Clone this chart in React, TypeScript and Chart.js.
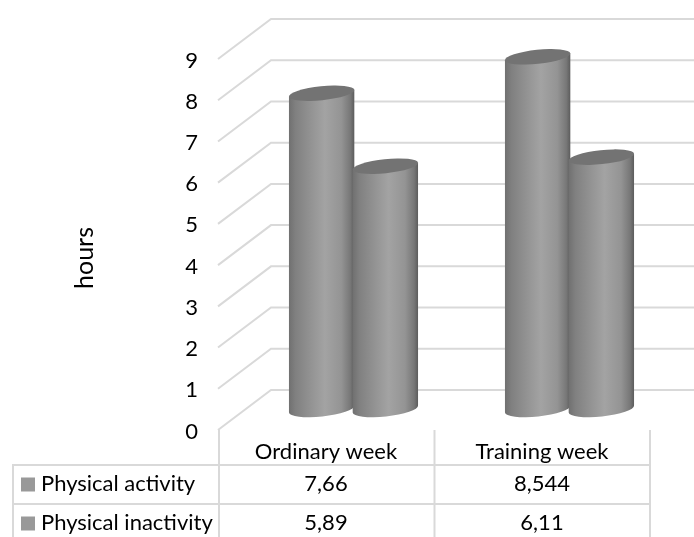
import React, { useEffect, useRef } from "react";
import { Chart, registerables } from "chart.js";

Chart.register(...registerables);

const categories = ["Ordinary week", "Training week"];
const seriesNames = ["Physical activity", "Physical inactivity"];
const physicalActivity = [7.66, 8.544];
const physicalInactivity = [5.89, 6.11];
const tickStep = 1;
const axisMax = 9;
const axisTitle = "hours";

const FONT = "Lato";
const FONT_SIZE = 22;
const GRID = "#d9d9d9";
const TEXT = "#000000";
const DEPTH_X = 53;
const DEPTH_Y = 40;

const fmt = (v: number) => String(v).replace(".", ",");

const wallPlugin = {
  id: "wall",
  beforeDatasetsDraw(chart: any) {
    const { ctx, scales, chartArea, width } = chart;
    const y = scales.y;
    const left = chartArea.left;
    ctx.save();
    ctx.strokeStyle = GRID;
    ctx.lineWidth = 2;
    y.ticks.forEach((t: any) => {
      const py = y.getPixelForValue(t.value);
      ctx.beginPath();
      ctx.moveTo(left, py);
      ctx.lineTo(left + DEPTH_X, py - DEPTH_Y);
      ctx.lineTo(width, py - DEPTH_Y);
      ctx.stroke();
    });
    ctx.restore();
  },
};

const cylinderPlugin = {
  id: "cylinders",
  afterDatasetsDraw(chart: any) {
    const { ctx } = chart;
    const rot = (-6 * Math.PI) / 180;
    const n = chart.data.labels.length;
    for (let i = 0; i < n; i++) {
      chart.data.datasets.forEach((_: any, d: number) => {
        const el = chart.getDatasetMeta(d).data[i];
        const cx = el.x + DEPTH_X / 2 + 1;
        const top = el.y - DEPTH_Y / 2 - 1;
        const base = el.base - DEPTH_Y / 2 - 1;
        const rx = el.width / 2 + 1;
        const ry = 7;
        const dx = rx * Math.cos(rot);
        const dy = rx * Math.sin(rot);
        const g = ctx.createLinearGradient(cx - dx, 0, cx + dx, 0);
        g.addColorStop(0, "#707070");
        g.addColorStop(0.1, "#808080");
        g.addColorStop(0.35, "#949494");
        g.addColorStop(0.55, "#a3a3a3");
        g.addColorStop(0.8, "#949494");
        g.addColorStop(0.94, "#777777");
        g.addColorStop(1, "#5c5c5c");
        ctx.save();
        ctx.beginPath();
        ctx.moveTo(cx - dx, top - dy);
        ctx.lineTo(cx - dx, base - dy);
        ctx.ellipse(cx, base, rx, ry + 0.5, rot, Math.PI, 0, true);
        ctx.lineTo(cx + dx, top + dy);
        ctx.closePath();
        ctx.fillStyle = g;
        ctx.fill();
        ctx.beginPath();
        ctx.ellipse(cx, top, rx, ry, rot, 0, Math.PI * 2);
        ctx.fillStyle = "#737373";
        ctx.fill();
        ctx.restore();
      });
    }
  },
};

const tablePlugin = {
  id: "dataTable",
  afterDraw(chart: any) {
    const { ctx, chartArea, scales, height } = chart;
    const x = scales.x;
    const left = chartArea.left + 1;
    const right = chartArea.right;
    const mid = (left + right) / 2;
    const tableLeft = 13;
    const rows = [465, 504];
    ctx.save();
    ctx.strokeStyle = GRID;
    ctx.lineWidth = 2;
    const line = (a: number, b: number, c: number, e: number) => {
      ctx.beginPath();
      ctx.moveTo(a, b);
      ctx.lineTo(c, e);
      ctx.stroke();
    };
    rows.forEach((r) => line(tableLeft, r, right, r));
    line(tableLeft, rows[0] - 1, tableLeft, height);
    line(left, chartArea.bottom, left, height);
    line(mid, chartArea.bottom, mid, height);
    line(right, chartArea.bottom, right, height);
    ctx.font = `${FONT_SIZE}px ${FONT}`;
    ctx.textBaseline = "middle";
    chart.data.datasets.forEach((ds: any, d: number) => {
      const yc = rows[0] + 19 + d * 39;
      ctx.fillStyle = "#999999";
      ctx.fillRect(21, yc - 6.5, 14, 14);
      ctx.fillStyle = TEXT;
      ctx.textAlign = "left";
      ctx.fillText(ds.label, 41, yc);
      ctx.textAlign = "center";
      ds.data.forEach((v: number, i: number) => {
        ctx.fillText(fmt(v), x.getPixelForValue(i), yc);
      });
    });
    ctx.font = `25px ${FONT}`;
    ctx.textBaseline = "alphabetic";
    ctx.translate(93, 258);
    ctx.rotate(-Math.PI / 2);
    ctx.textAlign = "center";
    ctx.fillText(axisTitle, 0, 0);
    ctx.restore();
  },
};

export default function App() {
  const ref = useRef<HTMLCanvasElement>(null);
  useEffect(() => {
    document.body.style.margin = "0";
    const chart = new Chart(ref.current as HTMLCanvasElement, {
      type: "bar",
      data: {
        labels: categories,
        datasets: [
          { label: seriesNames[0], data: physicalActivity, backgroundColor: "rgba(0,0,0,0)" },
          { label: seriesNames[1], data: physicalInactivity, backgroundColor: "rgba(0,0,0,0)" },
        ],
      },
      plugins: [wallPlugin, cylinderPlugin, tablePlugin],
      options: {
        animation: false,
        responsive: false,
        layout: { padding: { top: 59, right: 44, left: 0, bottom: 0 } },
        datasets: { bar: { barPercentage: 1, categoryPercentage: 0.59 } },
        plugins: { legend: { display: false }, tooltip: { enabled: false }, title: { display: false } },
        scales: {
          x: {
            grid: { display: false },
            border: { display: false },
            ticks: { font: { family: FONT, size: FONT_SIZE }, color: TEXT, padding: 1, maxRotation: 0 },
            afterFit(s: any) {
              s.height = 107;
            },
          },
          y: {
            min: 0,
            max: axisMax,
            grid: { display: false },
            border: { display: false },
            ticks: { stepSize: tickStep, font: { family: FONT, size: FONT_SIZE }, color: TEXT, padding: 12, labelOffset: 1.5 },
            afterFit(s: any) {
              s.width = 218;
            },
          },
        },
      },
    });
    return () => chart.destroy();
  }, []);
  return (
    <div style={{ position: "absolute", left: 0, top: 0, width: 694, height: 537 }}>
      <canvas ref={ref} width={694} height={537} style={{ display: "block" }} />
    </div>
  );
}
